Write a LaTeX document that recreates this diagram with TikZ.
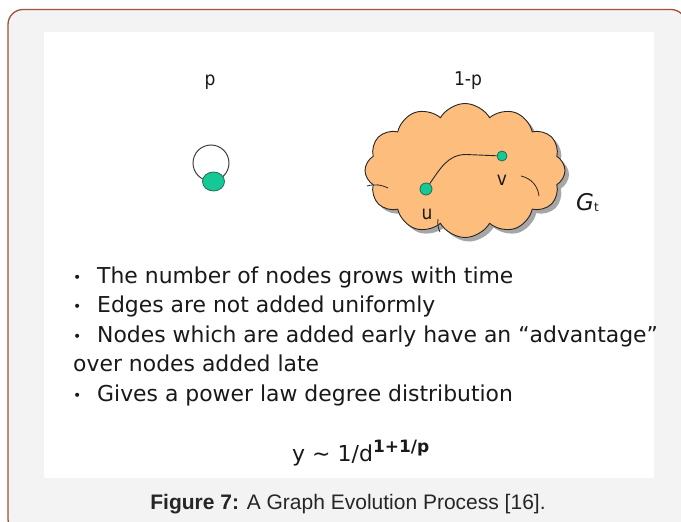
\documentclass[tikz,border=0pt]{standalone}
\usepackage{fontspec}
\setmainfont{DejaVu Sans}
\newfontfamily\capfont{Liberation Sans}
\newfontfamily\condfont{DejaVu Sans Condensed}
\usetikzlibrary{shapes.symbols,shapes.geometric,calc}
\definecolor{bgray}{RGB}{243,243,243}
\definecolor{framec}{RGB}{160,82,58}
\definecolor{cloudfill}{RGB}{253,190,125}
\definecolor{nodegreen}{RGB}{22,200,150}
\definecolor{nodeedge}{RGB}{30,110,80}
\definecolor{txt}{RGB}{25,25,25}
\tikzset{
  greennode/.style={circle,fill=nodegreen,draw=nodeedge,line width=0.8pt,inner sep=0pt},
  bullettext/.style={anchor=base west,inner sep=0pt,text=txt,font=\fontsize{21.9}{22}\selectfont},
  smalllabel/.style={inner sep=0pt,text=txt,font=\condfont\fontsize{19}{19}\selectfont},
  curl/.style={line width=0.8pt,draw=black!85},
  cloudshape/.style={cloud,cloud puffs=12,cloud puff arc=120,aspect=1.5,minimum width=200pt,minimum height=134pt}
}
\newcommand{\bul}{\makebox[24pt][l]{\raisebox{1pt}{\fontsize{14}{14}\selectfont•}}}
\begin{document}
\begin{tikzpicture}[x=1pt,y=-1pt]
\useasboundingbox (0,0) rectangle (681,522);
\fill[white] (0,0) rectangle (681,522);
\filldraw[fill=bgray,draw=framec,line width=1.3pt,rounded corners=15pt] (8,9.5) rectangle (686,534);
\fill[white] (44,32) rectangle (654,478);
% labels p and 1-p
\node[smalllabel,anchor=base] (lp) at (210,85) {p};
\node[smalllabel,anchor=base] (l1p) at (468,85) {1-p};
% self loop
\draw[line width=1pt,draw=black!75] (211,163) circle[radius=18];
\node[ellipse,fill=nodegreen,draw=nodeedge,line width=0.8pt,minimum width=22pt,minimum height=19pt,inner sep=0pt] (s) at (213.5,181.5) {};
% cloud with shadow
\node[cloudshape,fill=black!35] (Gshadow) at (469,174.5) {};
\node[cloudshape,fill=cloudfill,draw=black!85,line width=0.9pt] (G) at (465,170.5) {};
% curls inside cloud
\draw[curl] (367,186) to[bend left=20] (388,188);
\draw[curl] (521,176) to[bend left=35] (539,196);
\draw[curl] (438,219) to[bend right=15] (440,232);
% nodes u and v
\node[greennode,minimum size=12pt] (u) at (426,189) {};
\node[greennode,minimum size=10pt] (v) at (502,156) {};
\coordinate (bend) at (466,154.5);
\draw[line width=0.9pt,draw=black!85] (u) to[out=55,in=180] (bend) -- (v);
\node[smalllabel,anchor=base] (lu) at (427,219) {u};
\node[smalllabel,anchor=base] (lv) at (502,185) {v};
\node[inner sep=0pt,anchor=base west,text=txt,font=\fontsize{23}{23}\selectfont] (gt) at (576,210) {\textit{G}\raisebox{-1pt}{\fontsize{12}{12}\selectfont t}};
% bullet text
\node[bullettext] (b1) at (73,283) {\bul The number of nodes grows with time};
\node[bullettext] (b2) at (73,312) {\bul Edges are not added uniformly};
\node[bullettext] (b3) at (73,342) {\bul Nodes which are added early have an “advantage”};
\node[bullettext] (b4) at (73,371) {over nodes added late};
\node[bullettext] (b5) at (73,401) {\bul Gives a power law degree distribution};
% formula
\node[anchor=base west,inner sep=0pt,text=txt,font=\fontsize{22}{22}\selectfont] (f) at (292,461)
  {y \textasciitilde{} 1/d\raisebox{8.5pt}{\fontsize{17}{17}\selectfont\bfseries 1+1/p}};
% caption
\node[anchor=base,inner sep=0pt,text=black!85,font=\capfont\fontsize{21}{21}\selectfont] (cap) at (348,509)
  {\textbf{Figure 7:} A Graph Evolution Process [16].};
\end{tikzpicture}
\end{document}
